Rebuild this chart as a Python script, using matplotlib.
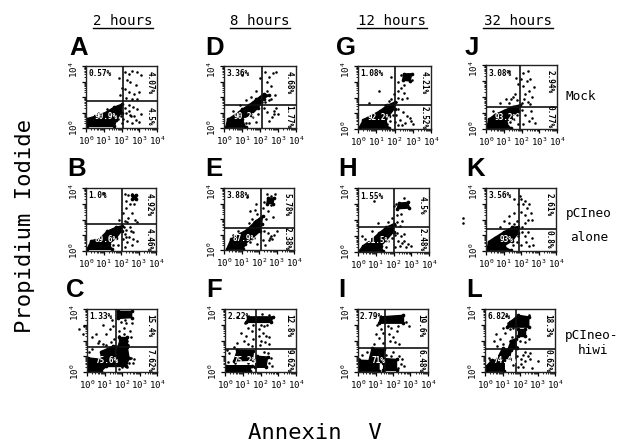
import numpy as np
import matplotlib
matplotlib.use("Agg")
import matplotlib.pyplot as plt
from matplotlib.transforms import ScaledTranslation

W, H = 631, 445
plt.rcParams['font.family'] = ['DejaVu Sans Mono']
plt.rcParams['mathtext.fontset'] = 'custom'
plt.rcParams['mathtext.rm'] = 'Liberation Sans:bold'
plt.rcParams['mathtext.default'] = 'rm'

time_labels = ["2 hours", "8 hours", "12 hours", "32 hours"]
panel_letters = ["A", "D", "G", "J", "B", "E", "H", "K", "C", "F", "I", "L"]
condition_labels = ["Mock", "pCIneo", "alone", "pCIneo-", "hiwi"]
tick_labels = ["0", "1", "2", "3", "4"]

# quadrant percentages: UL, UR, LR, LL
pct = {
 "A": ["0.57%", "4.07%", "4.5%", "90.9%"], "D": ["3.36%", "4.68%", "1.77%", "90.2%"],
 "G": ["1.08%", "4.21%", "2.52%", "92.2%"], "J": ["3.08%", "2.94%", "0.77%", "93.2%"],
 "B": ["1.0%", "4.92%", "4.46%", "89.6%"], "E": ["3.88%", "5.78%", "2.38%", "87.9%"],
 "H": ["1.55%", "4.5%", "2.48%", "91.5%"], "K": ["3.56%", "2.61%", "0.8%", "93%"],
 "C": ["1.33%", "15.4%", "7.62%", "75.6%"], "F": ["2.22%", "12.8%", "9.62%", "75.2%"],
 "I": ["2.79%", "19.6%", "6.48%", "71%"], "L": ["6.82%", "18.3%", "0.62%", "74.4%"],
}
# quadrant gate positions (x, y) in decades
gates = {"A": (2.08, 1.75), "D": (2.1, 1.5), "G": (2.0, 1.55), "J": (1.9, 1.4),
         "B": (2.05, 1.72), "E": (2.1, 1.42), "H": (2.0, 1.55), "K": (1.9, 1.4),
         "C": (1.65, 1.6), "F": (1.75, 1.45), "I": (1.55, 1.55), "L": (1.75, 1.45)}

# outlines of the saturated event clouds, (log Annexin V, log PI)
clouds = {
 "A": [[(.03,.1),(1.6,.1),(1.7,.5),(2.0,1.0),(2.05,1.55),(1.6,1.35),(1.1,1.0),(.5,.75),(.05,.6)]],
 "D": [[(.1,.05),(1.2,.05),(1.0,.6),(1.5,.85),(1.9,1.3),(2.2,1.9),(2.5,2.1),(2.2,2.2),(1.8,1.85),(1.4,1.5),(1.0,1.2),(.6,.85),(.2,.55)]],
 "G": [[(.05,.05),(1.7,.05),(1.5,.45),(1.7,.85),(2.0,1.3),(2.0,1.7),(1.6,1.5),(1.2,1.15),(.8,.9),(.3,.6)],
       [(2.45,3.1),(2.85,3.05),(2.95,3.5),(2.5,3.5)]],
 "J": [[(.05,.05),(1.4,.05),(1.1,.4),(1.4,.7),(1.8,1.1),(1.9,1.5),(1.5,1.4),(1.0,1.15),(.5,.9),(.15,.6)]],
 "B": [[(.05,.1),(1.5,.1),(1.3,.45),(1.7,.8),(2.05,1.3),(2.05,1.6),(1.7,1.5),(1.2,1.25),(.8,.8),(.3,.65)],
       [(2.6,3.3),(2.85,3.3),(2.85,3.55),(2.6,3.55)]],
 "E": [[(.15,.05),(1.1,.05),(1.2,.4),(1.6,.75),(2.05,1.2),(2.15,1.7),(2.2,2.2),(1.8,1.85),(1.3,1.3),(.9,1.05),(.4,.7)],
       [(2.45,3.0),(2.8,3.0),(2.85,3.35),(2.5,3.35)]],
 "H": [[(.05,.05),(1.4,.05),(1.3,.4),(1.6,.75),(2.0,1.25),(2.0,1.75),(1.6,1.55),(1.2,1.2),(.8,.8),(.3,.4)],
       [(2.2,2.7),(2.9,2.75),(2.8,3.1),(2.3,3.05)]],
 "K": [[(.05,.05),(1.4,.05),(1.0,.3),(1.5,.65),(1.85,1.15),(1.85,1.55),(1.5,1.5),(1.0,1.2),(.5,.85),(.15,.6)]],
 "C": [[(.05,.05),(.8,.05),(1.1,.35),(2.25,.35),(2.4,.9),(2.3,1.6),(1.5,1.65),(.8,1.3),(.8,.8),(.05,.9)],
       [(1.75,3.4),(2.55,3.45),(2.55,3.85),(1.75,3.85)],
       [(1.85,1.7),(2.3,1.7),(2.3,2.2),(1.85,2.2)]],
 "F": [[(.05,.02),(1.4,.05),(1.5,.4),(.05,.4)],
       [(.5,.7),(1.55,.75),(1.6,1.35),(.7,1.4)],
       [(1.7,.3),(2.3,.3),(2.4,.95),(1.8,1.0)],
       [(1.2,3.15),(2.6,3.15),(2.7,3.5),(1.3,3.5)]],
 "I": [[(.02,.05),(1.2,.05),(1.2,.7),(.05,.75)],
       [(.6,.6),(1.45,.6),(1.5,1.45),(.8,1.5)],
       [(1.45,.1),(2.2,.1),(2.2,.8),(1.5,.85)],
       [(1.2,3.1),(2.6,3.1),(2.6,3.6),(1.3,3.5)]],
 "L": [[(.1,.05),(1.1,.05),(1.1,.75),(.4,.75),(.1,.4)],
       [(.7,.85),(1.4,.85),(1.5,1.4),(1.0,1.5)],
       [(1.3,1.4),(1.8,1.5),(1.75,2.1),(1.5,2.0)],
       [(1.9,2.3),(2.3,2.3),(2.3,2.75),(1.9,2.75)],
       [(1.25,2.85),(2.5,2.85),(2.5,3.5),(1.9,3.6),(1.4,3.15)]],
}
# single events
sparse = {
 "A": [(1.9,2.1),(2.0,2.6),(1.85,3.2),(2.2,3.6),(2.4,3.5),(2.6,3.7),(2.9,3.6),(3.1,3.4),(2.3,3.1),(2.5,2.95),(2.8,2.8),(2.2,2.5),(2.45,2.3),(2.7,2.2),(3.0,2.3),(2.25,1.95),(2.6,1.9),(2.9,1.85),(2.2,1.3),(2.4,1.5),(2.65,1.35),(2.9,1.2),(2.25,.95),(2.5,.85),(2.55,.8),(2.7,.8),(2.8,.5),(2.3,.45),(2.6,.35),(3.0,.4),(1.6,.35),(1.8,.55),(2.0,.3),(1.95,.8),(1.2,1.2),(.7,.95),(1.7,.8),(2.1,.6),(2.4,1.1),(3.1,.9)],
 "D": [(1.0,3.4),(2.0,3.2),(1.8,2.4),(1.5,2.0),(1.2,1.8),(2.0,2.0),(2.2,2.2),(2.3,3.6),(2.5,3.3),(2.7,3.55),(2.9,3.6),(2.4,3.0),(2.6,2.7),(2.4,2.4),(2.85,2.1),(2.6,1.9),(2.3,1.65),(2.2,1.3),(2.4,1.05),(2.8,1.1),(2.75,.9),(2.65,.7),(2.5,.45),(2.9,1.3),(3.0,.9),(1.6,.7),(1.9,.9),(1.4,.35),(1.75,.4),(.8,1.0),(.5,1.1),(1.2,.3),(.9,1.5),(1.6,1.7),(2.1,1.7),(2.5,1.8)],
 "G": [(1.9,.9),(1.5,1.5),(1.7,1.8),(.6,1.65),(1.95,2.2),(1.8,1.9),(2.1,1.7),(2.2,2.0),(2.4,1.9),(2.2,2.4),(2.35,2.6),(2.5,2.3),(2.7,2.0),(2.2,3.0),(2.35,3.4),(2.8,3.5),(2.95,3.1),(2.5,2.8),(1.8,3.3),(2.2,1.3),(2.45,1.1),(2.1,.9),(2.7,.85),(2.3,.6),(2.6,.4),(2.9,.5),(2.2,.25),(1.75,.5),(1.5,.75),(3.0,.3),(2.4,.25),(2.85,.7),(1.6,.3),(2.05,.45),(1.15,2.4)],
 "J": [(1.3,3.6),(1.7,3.2),(1.8,2.8),(1.5,2.0),(1.1,1.9),(.8,1.6),(1.3,1.6),(1.75,1.8),(1.65,2.2),(1.4,1.85),(2.0,1.6),(2.15,1.9),(2.35,1.7),(2.2,2.2),(2.4,2.4),(2.6,2.0),(2.1,2.7),(2.3,3.0),(2.5,3.1),(2.1,3.5),(2.35,3.6),(2.7,2.6),(2.5,1.55),(1.95,3.1),(2.2,.9),(2.55,1.1),(2.6,.7),(2.1,.3),(2.4,.5),(2.75,.35),(1.55,.6),(1.75,.9),(1.8,.3),(1.35,.45),(.4,1.1),(2.05,1.2)],
 "B": [(1.9,2.0),(2.1,2.4),(2.2,3.6),(2.4,3.55),(2.6,3.6),(2.85,3.55),(2.3,3.2),(2.5,3.0),(2.75,3.0),(2.3,2.7),(2.6,2.4),(2.4,2.1),(2.2,1.9),(2.35,1.85),(2.8,2.0),(2.9,1.85),(2.15,1.5),(2.3,1.35),(2.5,1.55),(2.7,1.2),(2.2,1.05),(2.45,.9),(2.7,.75),(2.35,.55),(2.2,.25),(2.6,.35),(2.9,.65),(2.1,.75),(1.8,.4),(1.55,.35),(2.55,1.3),(2.3,.9),(1.7,.85),(.9,.95),(1.0,3.7)],
 "E": [(1.3,3.4),(1.8,3.0),(1.5,2.5),(1.9,2.3),(1.6,2.0),(1.75,2.6),(2.2,2.2),(2.4,2.0),(2.2,2.7),(2.5,2.5),(2.3,3.1),(2.5,3.3),(2.7,3.5),(2.9,3.6),(2.45,3.6),(2.7,2.9),(2.15,1.7),(2.8,2.1),(2.3,1.25),(2.5,1.1),(2.6,.8),(2.7,.9),(2.55,.65),(2.75,.7),(2.85,1.0),(2.2,.65),(2.35,.3),(3.0,1.2),(1.5,.5),(1.7,.75),(1.9,.4),(.5,1.0),(.8,1.2),(1.7,1.8),(1.4,1.75)],
 "H": [(.9,3.2),(1.1,1.8),(1.7,1.9),(1.8,1.6),(1.9,2.1),(2.2,1.9),(2.1,1.7),(2.35,1.6),(2.5,1.95),(2.2,2.3),(2.45,2.4),(2.35,2.85),(2.15,3.0),(2.6,3.4),(2.9,2.75),(2.0,2.9),(2.2,1.2),(2.6,1.15),(2.4,1.0),(2.25,.7),(2.6,.7),(2.8,.5),(2.35,.35),(2.7,.3),(2.5,.55),(2.1,.3),(1.7,.7),(1.9,.9),(1.55,.3),(3.0,.4),(.4,.8),(.25,1.0),(.8,1.3),(2.1,1.05)],
 "K": [(1.6,3.3),(1.85,3.0),(1.6,2.4),(1.3,2.2),(1.0,1.9),(.8,1.55),(1.6,1.7),(1.75,1.9),(1.3,1.75),(2.05,1.55),(2.2,1.8),(2.4,2.0),(2.25,2.3),(2.0,2.5),(2.35,2.7),(2.1,3.0),(2.0,3.3),(2.2,3.15),(2.45,3.0),(2.55,2.4),(2.6,2.0),(1.95,3.5),(2.05,1.2),(2.4,1.2),(2.2,.95),(2.6,.85),(2.3,.55),(2.0,.4),(2.7,.35),(2.45,.3),(1.75,.6),(1.8,.95),(1.55,.35),(-1.3,2.1),(-1.3,1.8)],
 "C": [(-.45,2.7),(-.2,2.95),(-.25,2.4),(.3,2.2),(.5,2.4),(.7,2.0),(.9,1.8),(1.1,2.4),(1.3,2.7),(1.5,2.95),(1.55,2.1),(1.1,1.7),(1.4,3.3),(.6,1.85),(.9,3.0),(1.35,1.9),(1.85,2.6),(2.1,2.8),(2.25,3.1),(1.85,2.3),(2.1,2.4),(2.3,2.0),(2.0,2.0),(1.85,1.85),(2.2,1.8),(2.45,2.6),(2.5,2.2),(2.35,1.7),(2.55,3.1),(1.95,3.2),(2.15,3.3),(2.5,.9),(2.4,.55),(2.3,.3),(2.6,.6),(2.0,.3),(2.25,1.25),(1.8,.2),(.1,1.3),(.3,1.45),(2.7,.85)],
 "F": [(.7,3.5),(1.1,3.1),(1.3,2.8),(.9,2.5),(1.2,2.3),(1.5,2.6),(1.05,2.0),(1.55,2.1),(.7,1.85),(1.3,1.8),(1.6,3.0),(.5,1.6),(1.5,1.65),(1.9,2.7),(2.0,3.0),(2.2,2.9),(2.15,2.5),(1.9,2.3),(2.3,2.3),(2.5,2.2),(2.0,2.0),(2.25,1.9),(2.5,1.75),(1.95,1.7),(2.35,3.0),(2.5,3.65),(2.1,3.7),(2.4,1.2),(2.6,.9),(2.5,.55),(2.2,1.25),(2.3,.35),(1.3,.6),(.15,.65),(.25,1.2),(.1,1.4),(.55,.6),(2.65,.35)],
 "I": [(1.1,3.0),(1.3,2.7),(1.0,2.4),(1.45,2.5),(1.2,2.15),(1.4,1.85),(.9,1.75),(1.7,2.9),(1.75,2.4),(2.0,2.25),(2.2,2.6),(1.9,2.8),(2.3,2.95),(1.85,2.0),(2.1,1.9),(2.35,1.8),(2.75,3.2),(2.6,3.65),(2.0,1.25),(2.35,1.0),(2.2,.8),(2.45,.5),(2.65,.35),(2.3,.25),(2.5,.8),(1.9,1.0),(1.6,1.1),(.2,1.1),(.5,1.3),(.05,.85),(2.9,2.9)],
 "L": [(1.3,3.1),(1.0,2.8),(.6,2.4),(.85,2.1),(1.15,2.45),(1.4,2.7),(.5,1.95),(1.05,1.8),(.7,1.65),(1.45,1.95),(1.55,2.25),(1.2,3.55),(1.6,2.8),(2.0,2.0),(1.85,1.6),(2.3,1.9),(2.5,2.1),(2.35,2.9),(2.5,3.65),(2.05,.5),(2.15,1.1),(2.3,1.3),(2.45,1.0),(2.55,.8),(2.3,.7),(2.05,.85),(1.9,.3),(2.15,.3),(2.7,.25),(2.55,1.2),(1.8,1.0),(1.4,.8),(1.6,.45),(.2,.9),(.3,.75),(3.0,.7)],
}

# layout: panel boxes in pixels (left, right, top, bottom)
boxes = {"A": (86,157,66,128), "D": (224,296,66,128), "G": (358,431,66,129), "J": (486,557,65,129),
         "B": (86,156,188,251), "E": (224,294,188,250), "H": (358,429,188,252), "K": (486,556,188,251),
         "C": (87,157,309,372), "F": (225,296,309,372), "I": (358,428,309,372), "L": (485,555,309,372)}
letter_pos = {"A": (69,55), "D": (205,55), "G": (336,55), "J": (465,55),
              "B": (67,176), "E": (205,176), "H": (338,176), "K": (466,176),
              "C": (66,297), "F": (206,297), "I": (338,297), "L": (466,297)}
header_pos = [(123,21,30), (260,21,30), (392,21,35), (518,21,35)]
cond_pos = [(581,96), (589,213), (589,237), (592,335), (593,350)]

fig = plt.figure(figsize=(W/100, H/100), dpi=100, facecolor="white")
minor = np.log10(np.arange(2, 10))
minors = np.concatenate([minor + d for d in range(4)])
ticks = np.arange(5)
labels = ["$\\mathregular{10^{%s}}$" % t for t in tick_labels]

for name in panel_letters:
    l, r, t, b = boxes[name]
    ax = fig.add_axes([l/W, 1-b/H, (r-l)/W, (b-t)/H])
    ax.set_xlim(0, 4); ax.set_ylim(0, 4)
    for poly in clouds[name]:
        c = np.array(poly)
        ax.fill(c[:,0], c[:,1], color="black", lw=1.0, zorder=2)
        ax.scatter(c[:,0], c[:,1], s=7, c="black", lw=0, zorder=2)
    s = np.array(sparse[name])
    ax.scatter(s[:,0], s[:,1], s=3.4, c="black", lw=0, clip_on=False, zorder=2)
    gx, gy = gates[name]
    ax.axvline(gx, color="#111111", lw=1.2, zorder=3)
    ax.axhline(gy, color="#111111", lw=1.2, zorder=3)
    for sp in ax.spines.values():
        sp.set_linewidth(1.0); sp.set_color("#222222")
    ax.set_xticks(ticks); ax.set_yticks(ticks)
    ax.set_xticks(minors, minor=True); ax.set_yticks(minors, minor=True)
    ax.tick_params(which="major", length=3, width=.9, pad=1.5)
    ax.tick_params(which="minor", length=1.5, width=.6)
    ax.set_xticklabels(labels, fontsize=6.6)
    ylabels = [labels[0], "", "", "", labels[4]]
    ax.set_yticklabels(ylabels, fontsize=6.6, rotation=90, va="center")
    top = ax.get_yticklabels()[4]
    top.set_transform(top.get_transform() + ScaledTranslation(0, -4/100, fig.dpi_scale_trans))
    p = pct[name]
    ax.text(.12, 3.78, p[0], fontsize=5.6, weight="bold", ha="left", va="top", zorder=4)
    ax.text(3.86, 2.95, p[1], fontsize=5.6, weight="bold", rotation=270, ha="right", va="center", zorder=4)
    ax.text(3.86, .75, p[2], fontsize=5.6, weight="bold", rotation=270, ha="right", va="center", zorder=4)
    ax.text(1.15, .72, p[3], fontsize=5.6, weight="bold", color="white", ha="center", va="center", zorder=4)
    lx, ly = letter_pos[name]
    fig.text(lx/W, 1-ly/H, name, fontsize=18.5, weight="bold", family="Liberation Sans", ha="left", va="baseline")

for txt, (x, y, hw) in zip(time_labels, header_pos):
    fig.text(x/W, 1-y/H, txt, fontsize=10.2, ha="center", va="center")
    fig.add_artist(plt.Line2D([(x-hw)/W, (x+hw)/W], [1-28/H]*2, color="black", lw=1.0))
for txt, (x, y) in zip(condition_labels, cond_pos):
    fig.text(x/W, 1-y/H, txt, fontsize=9.2, ha="center", va="center")

fig.text(25/W, 1-226/H, "Propidium Iodide", fontsize=16, rotation=90, ha="center", va="center")
fig.text(315/W, 1-433/H, "Annexin  V", fontsize=16, ha="center", va="center")

fig.savefig("out.png", dpi=100)
